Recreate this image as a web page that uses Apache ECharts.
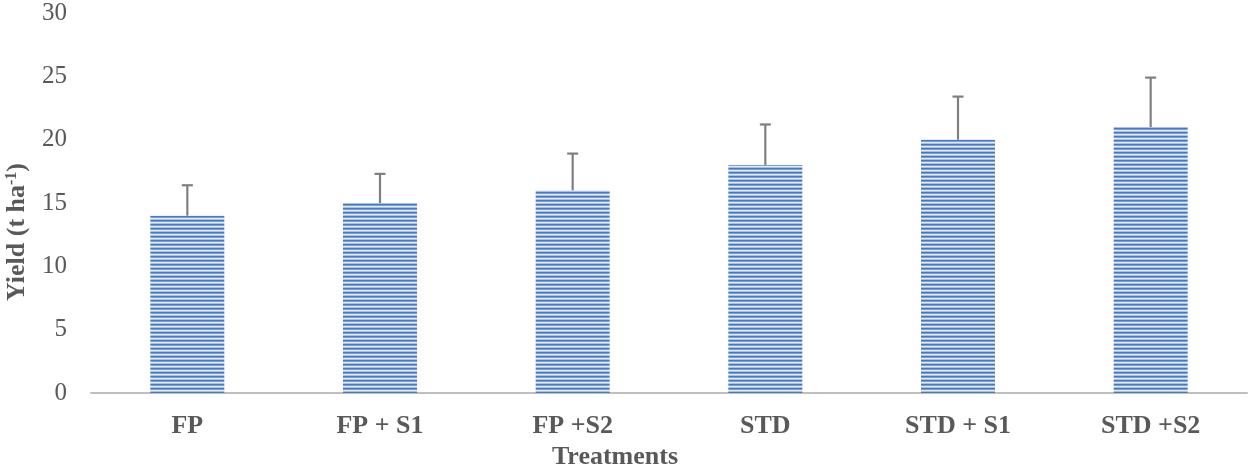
<!DOCTYPE html>
<html>
<head>
<meta charset="utf-8">
<script src="https://cdn.jsdelivr.net/npm/echarts@6/dist/echarts.min.js"></script>
<style>
    html, body { margin: 0; padding: 0; background: #fff; }
    #chart { width: 1252px; height: 469px; }
</style>
</head>
<body>
<div id="chart"></div>
<script>
// data
var treatments = ['FP', 'FP + S1', 'FP +S2', 'STD', 'STD + S1', 'STD +S2'];
var yieldValues = [14, 15, 16, 18, 20, 21];
var yieldErrors = [2.4, 2.3, 2.9, 3.2, 3.4, 3.9];
var yTicks = [0, 5, 10, 15, 20, 25, 30];

var FONT = '"Liberation Serif", "Times New Roman", serif';

// horizontal stripe fill like the original
function stripePattern () {
    var c = document.createElement('canvas');
    c.width = 4;
    c.height = 4;
    var ctx = c.getContext('2d');
    var rows = ['#4677bf', '#7a9fd6', '#e3ebf7', '#a9c0e4'];
    rows.forEach(function (col, i) {
        ctx.fillStyle = col;
        ctx.fillRect(0, i, 4, 1);
    });
    return c;
}

var errData = yieldValues.map(function (v, i) {
    return [i, v, v + yieldErrors[i]];
});

var myChart = echarts.init(document.getElementById('chart'));

var option = {
    animation: false,
    grid: { left: 91, right: 5, top: 13, bottom: 76, outerBoundsMode: 'none', containLabel: false },
    xAxis: {
        type: 'category',
        data: treatments,
        axisLine: { lineStyle: { color: '#bfbfbf', width: 2 } },
        axisTick: { show: false },
        axisLabel: {
            color: '#595959',
            fontFamily: FONT,
            fontWeight: 'bold',
            fontSize: 26,
            margin: 20
        },
        name: 'Treatments',
        nameLocation: 'middle',
        nameGap: 47,
        nameTextStyle: {
            color: '#595959',
            fontFamily: FONT,
            fontWeight: 'bold',
            fontSize: 26,
            padding: [0, 108, 0, 0]
        }
    },
    yAxis: {
        type: 'value',
        min: 0,
        max: 30,
        interval: 5,
        axisLine: { show: false },
        axisTick: { show: false },
        splitLine: { show: false },
        axisLabel: {
            color: '#595959',
            fontFamily: FONT,
            fontSize: 25,
            margin: 24,
            formatter: function (v) { return yTicks.indexOf(v) >= 0 ? v : ''; }
        },
        name: '{a|Yield (t ha}{s|-1}{a|)}',
        nameLocation: 'middle',
        nameGap: 61,
        nameTextStyle: {
            padding: [0, 58, 0, 0],
            rich: {
                a: {
                    color: '#595959',
                    fontFamily: FONT,
                    fontWeight: 'bold',
                    fontSize: 26
                },
                s: {
                    color: '#595959',
                    fontFamily: FONT,
                    fontWeight: 'bold',
                    fontSize: 16,
                    verticalAlign: 'top'
                }
            }
        }
    },
    series: [
        {
            type: 'bar',
            data: yieldValues,
            barWidth: '38.4%',
            itemStyle: {
                color: { image: stripePattern(), repeat: 'repeat' }
            }
        },
        {
            type: 'custom',
            data: errData,
            z: 3,
            renderItem: function (params, api) {
                var base = api.coord([api.value(0), api.value(1)]);
                var top = api.coord([api.value(0), api.value(2)]);
                var style = { stroke: '#7f7f7f', lineWidth: 2.2 };
                return {
                    type: 'group',
                    children: [
                        { type: 'line', shape: { x1: base[0], y1: base[1], x2: top[0], y2: top[1] }, style: style },
                        { type: 'line', shape: { x1: top[0] - 5.5, y1: top[1], x2: top[0] + 5.5, y2: top[1] }, style: style }
                    ]
                };
            }
        }
    ]
};

myChart.setOption(option);
</script>
</body>
</html>
